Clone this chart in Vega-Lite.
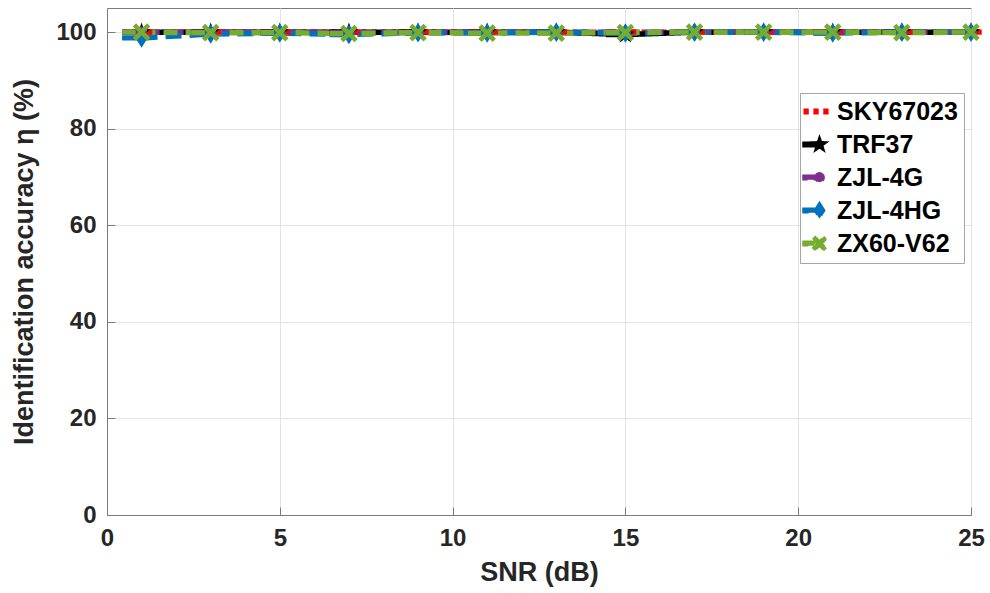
{
  "$schema": "https://vega.github.io/schema/vega-lite/v6.json",
  "width": 864,
  "height": 507,
  "autosize": {"type": "none"},
  "padding": {"left": 107, "top": 8, "right": 19, "bottom": 78},
  "background": "white",
  "config": {
    "font": "Liberation Sans",
    "view": {"stroke": "#7a7a7a", "strokeWidth": 1},
    "axis": {
      "labelFont": "Liberation Sans",
      "labelFontSize": 24,
      "labelFontWeight": "bold",
      "labelColor": "#262626",
      "labelFlush": false,
      "titleFont": "Liberation Sans",
      "titleFontSize": 27,
      "titleFontWeight": "bold",
      "titleColor": "#262626",
      "domainColor": "#7a7a7a",
      "tickColor": "#7a7a7a",
      "gridColor": "#e3e3e3",
      "gridWidth": 1,
      "tickSize": -8,
      "labelPadding": 19
    }
  },
  "data": {
    "values": [
      {"snr": 1, "acc": 100, "model": "SKY67023"},
      {"snr": 3, "acc": 100, "model": "SKY67023"},
      {"snr": 5, "acc": 100, "model": "SKY67023"},
      {"snr": 7, "acc": 100, "model": "SKY67023"},
      {"snr": 9, "acc": 100, "model": "SKY67023"},
      {"snr": 11, "acc": 100, "model": "SKY67023"},
      {"snr": 13, "acc": 100, "model": "SKY67023"},
      {"snr": 15, "acc": 100, "model": "SKY67023"},
      {"snr": 17, "acc": 100, "model": "SKY67023"},
      {"snr": 19, "acc": 100, "model": "SKY67023"},
      {"snr": 21, "acc": 100, "model": "SKY67023"},
      {"snr": 23, "acc": 100, "model": "SKY67023"},
      {"snr": 25, "acc": 100, "model": "SKY67023"},
      {"snr": 1, "acc": 100, "model": "TRF37"},
      {"snr": 3, "acc": 100, "model": "TRF37"},
      {"snr": 5, "acc": 100, "model": "TRF37"},
      {"snr": 7, "acc": 100, "model": "TRF37"},
      {"snr": 9, "acc": 100, "model": "TRF37"},
      {"snr": 11, "acc": 100, "model": "TRF37"},
      {"snr": 13, "acc": 100, "model": "TRF37"},
      {"snr": 15, "acc": 99.5, "model": "TRF37"},
      {"snr": 17, "acc": 100, "model": "TRF37"},
      {"snr": 19, "acc": 100, "model": "TRF37"},
      {"snr": 21, "acc": 100, "model": "TRF37"},
      {"snr": 23, "acc": 100, "model": "TRF37"},
      {"snr": 25, "acc": 100, "model": "TRF37"},
      {"snr": 1, "acc": 100, "model": "ZJL-4G"},
      {"snr": 3, "acc": 100, "model": "ZJL-4G"},
      {"snr": 5, "acc": 100, "model": "ZJL-4G"},
      {"snr": 7, "acc": 99.9, "model": "ZJL-4G"},
      {"snr": 9, "acc": 99.9, "model": "ZJL-4G"},
      {"snr": 11, "acc": 100, "model": "ZJL-4G"},
      {"snr": 13, "acc": 100, "model": "ZJL-4G"},
      {"snr": 15, "acc": 100, "model": "ZJL-4G"},
      {"snr": 17, "acc": 100, "model": "ZJL-4G"},
      {"snr": 19, "acc": 100, "model": "ZJL-4G"},
      {"snr": 21, "acc": 100, "model": "ZJL-4G"},
      {"snr": 23, "acc": 100, "model": "ZJL-4G"},
      {"snr": 25, "acc": 100, "model": "ZJL-4G"},
      {"snr": 1, "acc": 98.8, "model": "ZJL-4HG"},
      {"snr": 3, "acc": 99.6, "model": "ZJL-4HG"},
      {"snr": 5, "acc": 99.8, "model": "ZJL-4HG"},
      {"snr": 7, "acc": 99.5, "model": "ZJL-4HG"},
      {"snr": 9, "acc": 99.9, "model": "ZJL-4HG"},
      {"snr": 11, "acc": 99.8, "model": "ZJL-4HG"},
      {"snr": 13, "acc": 100, "model": "ZJL-4HG"},
      {"snr": 15, "acc": 99.8, "model": "ZJL-4HG"},
      {"snr": 17, "acc": 100, "model": "ZJL-4HG"},
      {"snr": 19, "acc": 100, "model": "ZJL-4HG"},
      {"snr": 21, "acc": 99.8, "model": "ZJL-4HG"},
      {"snr": 23, "acc": 100, "model": "ZJL-4HG"},
      {"snr": 25, "acc": 100, "model": "ZJL-4HG"},
      {"snr": 1, "acc": 100, "model": "ZX60-V62"},
      {"snr": 3, "acc": 99.9, "model": "ZX60-V62"},
      {"snr": 5, "acc": 99.9, "model": "ZX60-V62"},
      {"snr": 7, "acc": 99.7, "model": "ZX60-V62"},
      {"snr": 9, "acc": 99.9, "model": "ZX60-V62"},
      {"snr": 11, "acc": 99.8, "model": "ZX60-V62"},
      {"snr": 13, "acc": 99.8, "model": "ZX60-V62"},
      {"snr": 15, "acc": 99.9, "model": "ZX60-V62"},
      {"snr": 17, "acc": 100, "model": "ZX60-V62"},
      {"snr": 19, "acc": 100, "model": "ZX60-V62"},
      {"snr": 21, "acc": 100, "model": "ZX60-V62"},
      {"snr": 23, "acc": 99.9, "model": "ZX60-V62"},
      {"snr": 25, "acc": 100, "model": "ZX60-V62"}
    ]
  },
  "encoding": {
    "x": {
      "field": "snr", "type": "quantitative",
      "scale": {"domain": [0, 25], "nice": false, "zero": false},
      "axis": {"title": "SNR (dB)", "values": [0, 5, 10, 15, 20, 25], "grid": true, "titlePadding": 9}
    },
    "y": {
      "field": "acc", "type": "quantitative",
      "scale": {"domain": [0, 105], "nice": false},
      "axis": {"title": "Identification accuracy η (%)", "values": [0, 20, 40, 60, 80, 100], "grid": true, "titlePadding": 17}
    },
    "color": {
      "field": "model", "type": "nominal",
      "scale": {
        "domain": ["SKY67023", "TRF37", "ZJL-4G", "ZJL-4HG", "ZX60-V62"],
        "range": ["#ff0000", "#000000", "#7e2f8e", "#0072bd", "#77ac30"]
      },
      "legend": {
        "title": null,
        "orient": "none",
        "legendX": 693,
        "legendY": 85,
        "padding": 6,
        "fillColor": "white",
        "strokeColor": "#a6a6a6",
        "labelFont": "Liberation Sans",
        "labelFontSize": 25,
        "labelFontWeight": "bold",
        "labelColor": "#000000",
        "symbolSize": 121,
        "symbolOffset": 1,
        "labelOffset": 5,
        "rowPadding": 7,
        "labelLimit": 300
      }
    }
  },
  "layer": [
    {
      "mark": {"type": "line", "strokeWidth": 5.5, "strokeCap": "butt"},
      "encoding": {
        "strokeDash": {
          "field": "model", "type": "nominal", "legend": null,
          "scale": {
            "domain": ["SKY67023", "TRF37", "ZJL-4G", "ZJL-4HG", "ZX60-V62"],
            "range": [[5, 5], [1, 0], [18, 6], [16, 8], [14, 8]]
          }
        }
      }
    },
    {
      "mark": {"type": "point", "filled": true, "opacity": 1, "size": 169, "strokeWidth": 0},
      "encoding": {
        "shape": {
          "field": "model", "type": "nominal", "legend": null,
          "scale": {
            "domain": ["SKY67023", "TRF37", "ZJL-4G", "ZJL-4HG", "ZX60-V62"],
            "range": [
              "M-2.9,-0.42h0.95v0.84h-0.95z M-1.1,-0.42h0.95v0.84h-0.95z M0.7,-0.42h0.95v0.84h-0.95z",
              "M-3,-0.4H-0.45V0.4H-3Z M0,-1.5 L0.353,-0.485 L1.427,-0.464 L0.571,0.185 L0.882,1.214 L0,0.6 L-0.882,1.214 L-0.571,0.185 L-1.427,-0.464 L-0.353,-0.485 Z",
              "M-3,-0.4H-0.8V0.4H-3Z M-0.85,0 A0.85,0.85 0 1,1 0.85,0 A0.85,0.85 0 1,1 -0.85,0 Z",
              "M-3,-0.4H-0.7V0.4H-3Z M0,-1.5 L0.95,0 L0,1.5 L-0.95,0 Z",
              "M-3,-0.4H-0.9V0.4H-3Z M-0.85,-1.35 L1.35,0.85 L0.85,1.35 L-1.35,-0.85 Z M-1.35,0.85 L0.85,-1.35 L1.35,-0.85 L-0.85,1.35 Z"
            ]
          }
        }
      }
    }
  ]
}
